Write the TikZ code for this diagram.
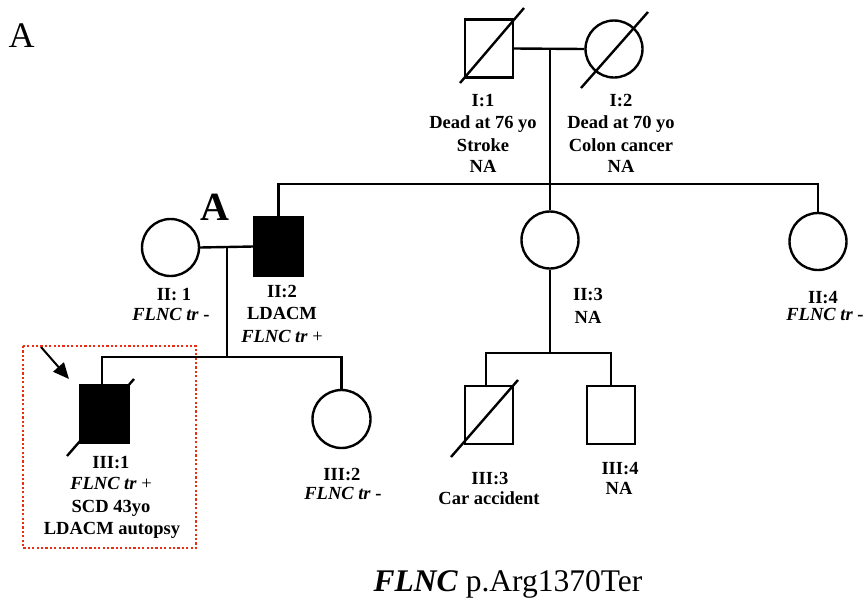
\documentclass[tikz,border=0pt]{standalone}
\usepackage{fontspec}
\setmainfont{Liberation Serif}
\usetikzlibrary{arrows.meta}
\definecolor{boxred}{RGB}{235,45,20}
\newcommand\fltr{\textbf{\textit{FLNC tr}}}
\newcommand\lbfont{\fontsize{18.5}{22}\selectfont\bfseries}
\begin{document}
\begin{tikzpicture}[x=1pt,y=-1pt,
  ped/.style={line width=2.4pt},
  male/.style={draw, rectangle, line width=2.4pt, minimum width=48pt, minimum height=58pt, inner sep=0pt},
  female/.style={draw, circle, line width=2.4pt, minimum size=57pt, inner sep=0pt},
  affected/.style={fill=black},
  lbl/.style={font=\lbfont, anchor=base, inner sep=0pt},
  redbox/.style={draw=boxred, line width=2.6pt, dash pattern=on 2.2pt off 2.2pt}]
\useasboundingbox (0,0) rectangle (863,603);

% generation I
\node[male] (i1) at (489,48.5) {};
\node[female] (i2) at (614,49) {};
\draw[ped] ([shift={(-29,34.5)}]i1.center) -- ([shift={(35,-40.5)}]i1.center);
\draw[ped] ([shift={(-33,39)}]i2.center) -- ([shift={(34,-37)}]i2.center);
\coordinate (m1) at (550,49);
\coordinate (sib1) at (550,184);
\draw[ped] (i1.east) -- (i2.west);
\draw[ped] (m1) -- (sib1);

% generation II
\node[female] (ii1) at (170.5,247.5) {};
\node[male, affected, minimum height=59pt] (ii2) at (278.5,246.5) {};
\node[female] (ii3) at (550,240) {};
\node[female] (ii4) at (818,241.5) {};
\draw[ped] (ii2.north) |- (sib1) -| (ii4.north);
\draw[ped] (sib1) -- (ii3.north);
\coordinate (m2) at (227,247.5);
\coordinate (sib2) at (227,357);
\draw[ped] (ii1.east) -- (ii2.west);
\draw[ped] (m2) -- (sib2);
\coordinate (sib3) at (550,353);
\draw[ped] (ii3.south) -- (sib3);

% generation III
\node[male, affected] (iii1) at (104.5,414) {};
\node[female, minimum size=58pt] (iii2) at (341.5,419) {};
\node[male] (iii3) at (489,415) {};
\node[male] (iii4) at (611,415) {};
\draw[ped] ([shift={(-37.5,42)}]iii1.center) -- ([shift={(29.5,-35)}]iii1.center);
\draw[ped] ([shift={(-38,42)}]iii3.center) -- ([shift={(29,-35)}]iii3.center);
\draw[ped] ([xshift=-2.5pt]iii1.north) |- (sib2) -| (iii2.north);
\draw[ped] ([xshift=-3pt]iii3.north) |- (sib3) -| (iii4.north);

% proband arrow and box
\coordinate (arrs) at (41,347);
\coordinate (arrt) at (69,379);
\draw[line width=2pt, -{Triangle[length=16pt,width=14pt]}] (arrs) -- (arrt);
\draw[redbox] (23,346) rectangle (196,548);

% labels
\node[lbl] (t1a) at (483,106) {I:1};
\node[lbl] (t1b) at (483,128) {Dead at 76 yo};
\node[lbl] (t1c) at (483,151) {Stroke};
\node[lbl] (t1d) at (483,172) {NA};
\node[lbl] (t2a) at (621,106) {I:2};
\node[lbl] (t2b) at (621,128) {Dead at 70 yo};
\node[lbl] (t2c) at (621,151) {Colon cancer};
\node[lbl] (t2d) at (621,172) {NA};

\node[lbl] (t3a) at (174,300) {II: 1};
\node[lbl] (t3b) at (171,320) {\fltr{} -};
\node[lbl] (t4a) at (282,297) {II:2};
\node[lbl] (t4b) at (282,319) {LDACM};
\node[lbl] (t4c) at (282,342) {\fltr{} \mdseries +};
\node[lbl] (t5a) at (588,300) {II:3};
\node[lbl] (t5b) at (588,323) {NA};
\node[lbl] (t6a) at (823,303) {II:4};
\node[lbl] (t6b) at (825,320) {\fltr{} -};

\node[lbl] (t7a) at (111,468) {III:1};
\node[lbl] (t7b) at (111,489) {\fltr{} \mdseries +};
\node[lbl] (t7c) at (111,512) {SCD 43yo};
\node[lbl] (t7d) at (112,534) {LDACM autopsy};
\node[lbl] (t8a) at (342,480) {III:2};
\node[lbl] (t8b) at (343,499) {\fltr{} -};
\node[lbl] (t9a) at (490,484) {III:3};
\node[lbl] (t9b) at (489,504) {Car accident};
\node[lbl] (t10a) at (620,474) {III:4};
\node[lbl] (t10b) at (619,494) {NA};

\node[anchor=base, inner sep=0pt, font=\fontsize{36}{40}\selectfont] (pa) at (21.5,47) {A};
\node[anchor=base, inner sep=0pt, font=\fontsize{40}{44}\selectfont\bfseries] (pb) at (214.5,220) {A};
\node[anchor=base, inner sep=0pt, font=\fontsize{31.5}{34}\selectfont] (cap) at (508,591) {\textbf{\textit{FLNC}} p.Arg1370Ter};
\end{tikzpicture}
\end{document}
